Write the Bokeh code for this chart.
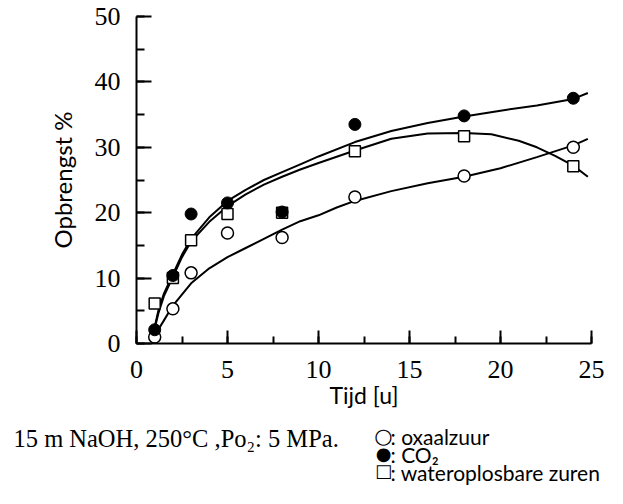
from bokeh.plotting import figure
from bokeh.models import Range1d, SingleIntervalTicker, Label
from bokeh.layouts import column
from bokeh.embed import file_html
from bokeh.resources import INLINE

# measured points
t = [1, 2, 3, 5, 8, 12, 18, 24]
oxaal = [1.0, 5.3, 10.8, 16.9, 16.2, 22.4, 25.6, 30.0]
co2 = [2.1, 10.4, 19.8, 21.5, 20.1, 33.5, 34.8, 37.5]
water = [6.1, 10.0, 15.8, 19.8, 20.0, 29.4, 31.7, 27.1]

# hand-drawn fit curves
co2_fit_x = [0.93, 1.2, 1.5, 2, 2.5, 3, 4, 5, 6, 7, 8, 9, 10, 12, 14, 16, 18, 20, 22, 24, 24.8]
co2_fit_y = [1.7, 5.0, 7.6, 10.6, 13.6, 16.0, 19.3, 21.8, 23.5, 25.0, 26.2, 27.4, 28.6, 30.8, 32.5, 33.7, 34.7, 35.6, 36.4, 37.4, 38.3]
water_fit_x = [0.93, 1.2, 1.5, 2, 2.5, 3, 4, 5, 6, 7, 8, 9, 10, 12, 14, 16, 18, 19.5, 21, 22, 23, 24, 24.8]
water_fit_y = [1.5, 4.6, 7.2, 10.2, 13.2, 15.6, 18.6, 21.0, 22.8, 24.3, 25.5, 26.6, 27.6, 29.5, 31.3, 32.1, 32.2, 32.0, 31.0, 30.0, 28.7, 27.2, 25.5]
oxa_fit_x = [1.04, 1.5, 2, 3, 4, 5, 6, 7, 8, 9, 10, 11, 12, 14, 16, 18, 20, 22, 24, 24.8]
oxa_fit_y = [1.4, 3.5, 5.8, 9.2, 11.5, 13.2, 14.6, 16.0, 17.4, 18.7, 19.6, 20.8, 21.8, 23.3, 24.5, 25.5, 26.8, 28.5, 30.3, 31.3]

caption = "15 m NaOH, 250°C ,Po₂: 5 MPa."
legend_symbols = ["○", "●", "□"]
legend_texts = [": oxaalzuur", ": CO₂", ": wateroplosbare zuren"]

p = figure(width=607, height=417, output_backend="svg", toolbar_location=None,
           x_range=Range1d(0, 25), y_range=Range1d(0, 50),
           min_border_left=136, min_border_right=16, min_border_top=16, min_border_bottom=74)
p.outline_line_color = None
p.xgrid.visible = False
p.ygrid.visible = False
p.frame_align = False

for ax in (p.xaxis[0], p.yaxis[0]):
    ax.axis_line_width = 2
    ax.axis_line_color = "black"
    ax.major_tick_line_width = 2
    ax.minor_tick_line_width = 2
    ax.major_tick_out = 0
    ax.minor_tick_out = 0
    ax.major_label_text_font = "Liberation Serif"
    ax.major_label_text_font_size = "26px"
    ax.major_label_text_color = "black"
    ax.axis_label_text_font = "Lato"
    ax.axis_label_text_font_style = "normal"
    ax.axis_label_text_color = "black"

p.xaxis[0].axis_label_text_font_size = "23px"
p.yaxis[0].axis_label_text_font_size = "24px"
p.xaxis[0].ticker = SingleIntervalTicker(interval=5, num_minor_ticks=2)
p.yaxis[0].ticker = SingleIntervalTicker(interval=10, num_minor_ticks=2)
p.xaxis[0].major_tick_in = 13
p.xaxis[0].minor_tick_in = 7
p.yaxis[0].major_tick_in = 15
p.yaxis[0].minor_tick_in = 8
p.xaxis[0].major_label_standoff = 17
p.yaxis[0].major_label_standoff = 16
p.xaxis.axis_label = "Tijd [u]"
p.yaxis.axis_label = "Opbrengst %"
p.xaxis[0].axis_label_standoff = 0
p.yaxis[0].axis_label_standoff = 15

p.line(co2_fit_x, co2_fit_y, line_color="black", line_width=2)
p.line(water_fit_x, water_fit_y, line_color="black", line_width=2)
p.line(oxa_fit_x, oxa_fit_y, line_color="black", line_width=2)

p.scatter(t, oxaal, marker="circle", size=12, fill_color="white", line_color="black", line_width=1.5)
p.scatter(t, water, marker="square", size=11, fill_color="white", line_color="black", line_width=1.5)
p.scatter(t, co2, marker="circle", size=12, fill_color="black", line_color="black", line_width=1)

# lower panel for caption and legend (pixel-like coordinates, y downward)
p2 = figure(width=607, height=71, output_backend="svg", toolbar_location=None,
            x_range=Range1d(0, 607), y_range=Range1d(488, 417),
            x_axis_type=None, y_axis_type=None,
            min_border_left=0, min_border_right=0, min_border_top=0, min_border_bottom=0)
p2.outline_line_color = None
p2.frame_align = False

p2.add_layout(Label(x=13, y=438, text=caption, text_font="Liberation Serif",
                    text_font_size="24.5px", text_baseline="alphabetic", text_color="black"))
sym_y = [435, 453, 470]
sym_size = ["21px", "18px", "18px"]
txt_y = [436, 454, 472]
for sym, txt, sy, ss, ty in zip(legend_symbols, legend_texts, sym_y, sym_size, txt_y):
    p2.add_layout(Label(x=383, y=sy, text=sym, text_font="DejaVu Sans", text_font_size=ss,
                        text_align="center", text_baseline="middle", text_color="black"))
    p2.add_layout(Label(x=390, y=ty, text=txt, text_font="Lato", text_font_size="21px",
                        text_baseline="alphabetic", text_color="black"))

layout = column(p, p2)
open("out.html", "w").write(file_html(layout, INLINE))
